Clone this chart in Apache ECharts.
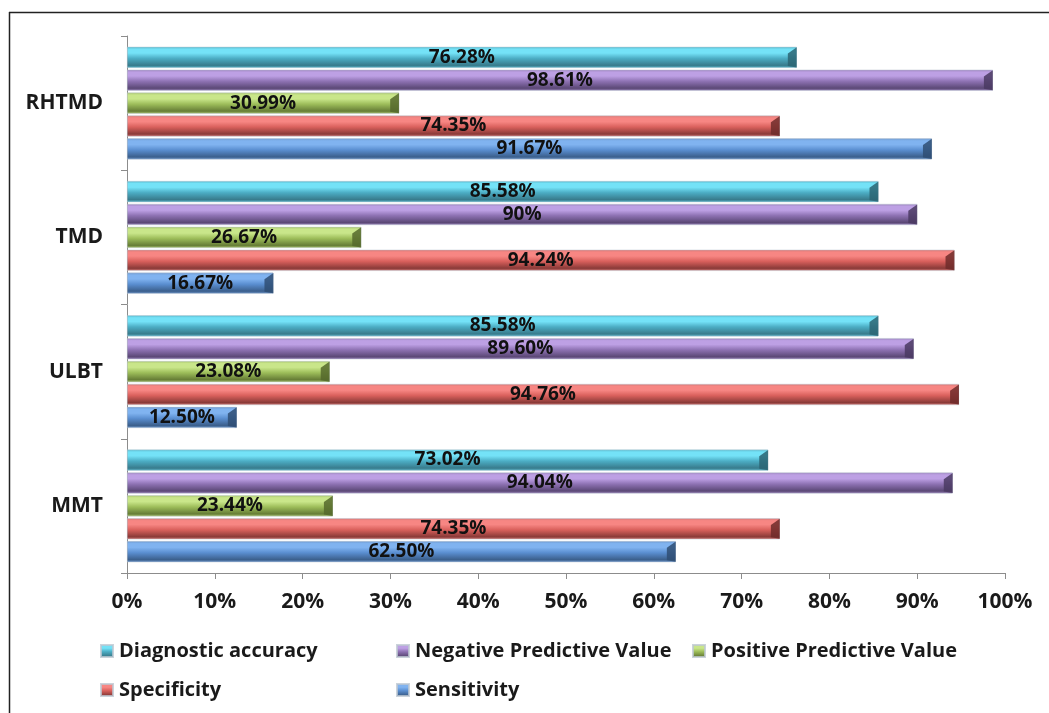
<!DOCTYPE html>
<html>
<head>
<meta charset="utf-8">
<script src="https://cdn.jsdelivr.net/npm/echarts@6/dist/echarts.min.js"></script>
<style>
  html, body { margin: 0; padding: 0; background: #ffffff; }
  #chart { width: 1049px; height: 713px; }
</style>
</head>
<body>
<div id="chart"></div>
<script>
// Test categories, bottom to top on the vertical axis
const categories = ['MMT', 'ULBT', 'TMD', 'RHTMD'];

// Percent values per measure, in the same order as categories
const diagnosticAccuracy = [73.02, 85.58, 85.58, 76.28];
const negativePredictive = [94.04, 89.6, 90, 98.61];
const positivePredictive = [23.44, 23.08, 26.67, 30.99];
const specificity = [74.35, 94.76, 94.24, 74.35];
const sensitivity = [62.5, 12.5, 16.67, 91.67];

// Percent axis tick marks
const xTicks = [0, 10, 20, 30, 40, 50, 60, 70, 80, 90, 100];

const FONT = 'Open Sans';
const BAR_GAP = 0.08;        // gap between neighbouring bars, fraction of bar width
const CATEGORY_GAP = 0.16;   // free space in each category band

// Vertical gradient giving each bar a rounded, bevelled look
function bevel(edge, light, base, dark) {
  return new echarts.graphic.LinearGradient(0, 0, 0, 1, [
    { offset: 0, color: edge },
    { offset: 0.12, color: light },
    { offset: 0.3, color: light },
    { offset: 0.55, color: base },
    { offset: 0.88, color: dark },
    { offset: 1, color: edge }
  ]);
}

// Series listed top to bottom within each category band
const seriesDefs = [
  { name: 'Diagnostic accuracy', data: diagnosticAccuracy,
    fill: bevel('#5ab8cc', '#74e2f7', '#4cadc4', '#387b8c'), key: '#4bacc6', cap: '#2c6573' },
  { name: 'Negative Predictive Value', data: negativePredictive,
    fill: bevel('#9a84bb', '#bda0e4', '#8e72b3', '#5b4876'), key: '#8064a2', cap: '#4a3a61' },
  { name: 'Positive Predictive Value', data: positivePredictive,
    fill: bevel('#a9c46f', '#c9e68a', '#9dbd5a', '#667d36'), key: '#9bbb59', cap: '#55692c' },
  { name: 'Specificity', data: specificity,
    fill: bevel('#d27a78', '#f78683', '#d9605c', '#8a3a38'), key: '#c0504d', cap: '#6e2c2a' },
  { name: 'Sensitivity', data: sensitivity,
    fill: bevel('#6f98cc', '#80b3f0', '#5a8ed0', '#3b5f8c'), key: '#4f81bd', cap: '#2f4d73' }
];

function pct(v) {
  return (Number.isInteger(v) ? String(v) : v.toFixed(2)) + '%';
}

const barSeries = seriesDefs.map(d => ({
  name: d.name,
  type: 'bar',
  data: d.data,
  barGap: (BAR_GAP * 100) + '%',
  barCategoryGap: (CATEGORY_GAP * 100) + '%',
  itemStyle: { color: d.fill, borderColor: 'rgba(190,200,210,0.8)', borderWidth: 0.6 },
  label: {
    show: true,
    position: 'inside',
    formatter: p => pct(p.value),
    color: '#111111',
    fontFamily: FONT,
    fontWeight: 'bold',
    fontSize: 19
  },
  z: 2,
  emphasis: { disabled: true }
}));

// Dark bevelled face at the end of each bar, placed with the same band layout as the bars
const capSeries = seriesDefs.map((d, si) => ({
  type: 'custom',
  name: d.name + ' end',
  silent: true,
  z: 3,
  data: d.data.map((v, ci) => [v, ci]),
  renderItem: (params, api) => {
    const end = api.coord([api.value(0), api.value(1)]);
    const band = api.size([0, 1])[1];
    const usable = band * (1 - CATEGORY_GAP);
    const n = seriesDefs.length;
    const bw = usable / (n + (n - 1) * BAR_GAP);
    const top = end[1] - usable / 2 + si * bw * (1 + BAR_GAP);
    const x = end[0];
    const dx = Math.min(9, bw * 0.42);
    return {
      type: 'polygon',
      shape: { points: [[x - dx, top + bw * 0.32], [x, top + 0.5], [x, top + bw - 0.5], [x - dx, top + bw - 2]] },
      style: { fill: d.cap, opacity: 0.85 }
    };
  }
}));

// Legend laid out as a two-row grid
const legendSlots = [
  { name: 'Diagnostic accuracy', left: 100, top: 641 },
  { name: 'Negative Predictive Value', left: 396, top: 641 },
  { name: 'Positive Predictive Value', left: 692, top: 641 },
  { name: 'Specificity', left: 100, top: 680 },
  { name: 'Sensitivity', left: 396, top: 680 }
];

const legends = legendSlots.map(s => ({
  data: [{ name: s.name, icon: 'rect' }],
  left: s.left,
  top: s.top,
  itemWidth: 12,
  itemHeight: 12,
  padding: 0,
  selectedMode: false,
  textStyle: { fontFamily: FONT, fontWeight: 'bold', fontSize: 20, color: '#1a1a1a', padding: [0, 0, 0, 1] }
}));

const chart = echarts.init(document.getElementById('chart'), null, { renderer: 'canvas' });

chart.setOption({
  animation: false,
  backgroundColor: '#ffffff',
  color: seriesDefs.map(d => d.key),
  legend: legends,
  grid: { left: 127, right: 44, top: 36, bottom: 140, containLabel: false },
  xAxis: {
    type: 'value',
    min: xTicks[0],
    max: xTicks[xTicks.length - 1],
    interval: xTicks[1] - xTicks[0],
    axisLine: { show: true, lineStyle: { color: '#8c8c8c', width: 1 } },
    axisTick: { show: true, length: 6, lineStyle: { color: '#8c8c8c' } },
    splitLine: { show: false },
    axisLabel: {
      formatter: v => v + '%',
      margin: 19,
      fontFamily: FONT,
      fontWeight: 'bold',
      fontSize: 21,
      color: '#1a1a1a'
    }
  },
  yAxis: {
    type: 'category',
    data: categories,
    axisLine: { show: true, lineStyle: { color: '#8c8c8c', width: 1 } },
    axisTick: { show: true, length: 6, alignWithLabel: false, lineStyle: { color: '#8c8c8c' } },
    axisLabel: {
      margin: 24,
      fontFamily: FONT,
      fontWeight: 'bold',
      fontSize: 21,
      color: '#1a1a1a'
    }
  },
  graphic: [
    // chart-area frame (top and left edges)
    { type: 'line', shape: { x1: 9, y1: 12.5, x2: 1049, y2: 12.5 }, style: { stroke: '#222', lineWidth: 1.5 }, silent: true },
    { type: 'line', shape: { x1: 9.5, y1: 12, x2: 9.5, y2: 713 }, style: { stroke: '#222', lineWidth: 1.5 }, silent: true }
  ],
  series: barSeries.concat(capSeries)
});
</script>
</body>
</html>
